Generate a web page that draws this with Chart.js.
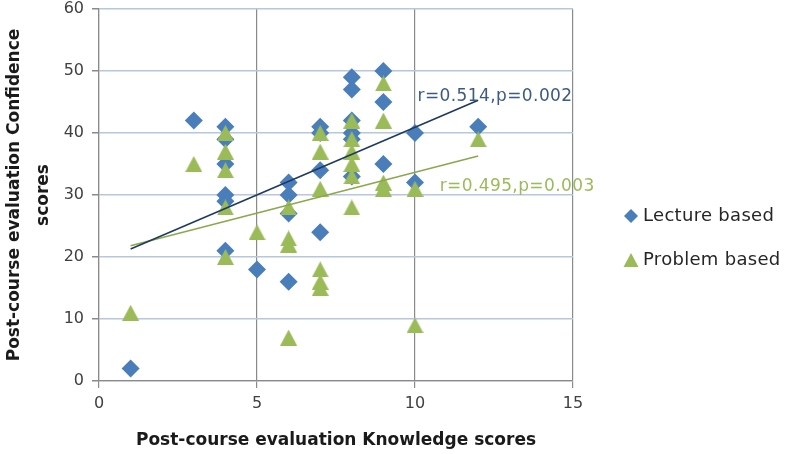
<!DOCTYPE html>
<html>
<head>
<meta charset="utf-8">
<script src="https://cdn.jsdelivr.net/npm/chart.js@4.4.1/dist/chart.umd.min.js"></script>
<style>
  html, body { margin: 0; padding: 0; background: #ffffff; }
  #wrap { width: 787px; height: 454px; }
</style>
</head>
<body>
<div id="wrap"><canvas id="c" width="787" height="454"></canvas></div>
<script>
// ---- data ----
const lectureX = [1, 3, 4, 4, 4, 4, 4, 4, 5, 6, 6, 6, 6, 7, 7, 7, 7, 8, 8, 8, 8, 8, 8, 9, 9, 9, 10, 10, 12];
const lectureY = [2, 42, 41, 39, 35, 30, 29, 21, 18, 32, 30, 27, 16, 41, 40, 34, 24, 49, 47, 42, 40, 39, 33, 50, 45, 35, 40, 32, 41];
const problemX = [1, 3, 4, 4, 4, 4, 4, 5, 6, 6, 6, 6, 7, 7, 7, 7, 7, 7, 8, 8, 8, 8, 8, 8, 9, 9, 9, 9, 10, 10, 12];
const problemY = [11, 35, 40, 37, 34, 28, 20, 24, 28, 23, 22, 7, 40, 37, 31, 18, 16, 15, 42, 39, 37, 35, 33, 28, 48, 42, 32, 31, 31, 9, 39];
const lectureTrendX = [1, 12];
const lectureTrendY = [21.3, 45.3];
const problemTrendX = [1, 12];
const problemTrendY = [21.8, 36.3];
const seriesNames = ['Lecture based', 'Problem based'];
const lectureStat = 'r=0.514,p=0.002';
const problemStat = 'r=0.495,p=0.003';
const xTitle = 'Post-course evaluation Knowledge scores';
const yTitle = ['Post-course evaluation Confidence', 'scores'];

const toPts = (xs, ys) => xs.map((x, i) => ({ x: x, y: ys[i] }));

const BLUE = '#4a7ebb';
const GREEN = '#9bbb59';

// triangle marker image, centred on its bounding box
function triangleImage(w, h, color) {
  const c = document.createElement('canvas');
  c.width = w; c.height = h;
  const g = c.getContext('2d');
  g.fillStyle = color;
  g.beginPath();
  g.moveTo(w / 2, 0);
  g.lineTo(w, h);
  g.lineTo(0, h);
  g.closePath();
  g.fill();
  return c;
}
const triImg = triangleImage(17, 16, GREEN);

const annotations = [
  { text: lectureStat, x: 10.08, y: 45.1, color: '#3b5b84' },
  { text: problemStat, x: 10.78, y: 30.6, color: GREEN }
];

const annotationPlugin = {
  id: 'annot',
  afterDatasetsDraw(chart) {
    const { ctx, scales } = chart;
    ctx.save();
    ctx.font = '17px "DejaVu Sans"';
    ctx.textBaseline = 'alphabetic';
    ctx.textAlign = 'left';
    try { ctx.letterSpacing = '0.4px'; } catch (e) {}
    annotations.forEach(a => {
      ctx.fillStyle = a.color;
      ctx.fillText(a.text, scales.x.getPixelForValue(a.x), scales.y.getPixelForValue(a.y));
    });
    ctx.restore();
  }
};

const legendPlugin = {
  id: 'customLegend',
  afterDraw(chart) {
    const { ctx } = chart;
    const area = chart.chartArea;
    const mx = area.right + 58;
    const tx = area.right + 70;
    const rows = [area.top + 207, area.top + 251];
    ctx.save();
    // diamond
    ctx.fillStyle = chart.data.datasets[0].backgroundColor;
    ctx.beginPath();
    ctx.moveTo(mx, rows[0] - 7);
    ctx.lineTo(mx + 7, rows[0]);
    ctx.lineTo(mx, rows[0] + 7);
    ctx.lineTo(mx - 7, rows[0]);
    ctx.closePath();
    ctx.fill();
    // triangle
    ctx.fillStyle = GREEN;
    ctx.beginPath();
    ctx.moveTo(mx, rows[1] - 7);
    ctx.lineTo(mx + 7.5, rows[1] + 7);
    ctx.lineTo(mx - 7.5, rows[1] + 7);
    ctx.closePath();
    ctx.fill();
    ctx.fillStyle = '#262626';
    ctx.font = '18px "DejaVu Sans"';
    ctx.textBaseline = 'middle';
    ctx.textAlign = 'left';
    try { ctx.letterSpacing = '0.3px'; } catch (e) {}
    ctx.fillText(seriesNames[0], tx, rows[0]);
    ctx.fillText(seriesNames[1], tx, rows[1]);
    ctx.restore();
  }
};

new Chart(document.getElementById('c'), {
  type: 'scatter',
  data: {
    datasets: [
      {
        label: seriesNames[0],
        data: toPts(lectureX, lectureY),
        pointStyle: 'rectRot',
        pointRadius: 9,
        backgroundColor: BLUE,
        borderColor: BLUE,
        borderWidth: 0,
        order: 2
      },
      {
        label: seriesNames[1],
        data: toPts(problemX, problemY),
        pointStyle: triImg,
        pointRadius: 8,
        backgroundColor: GREEN,
        borderColor: GREEN,
        borderWidth: 0,
        order: 1
      },
      {
        type: 'line',
        label: 'Lecture trend',
        data: toPts(lectureTrendX, lectureTrendY),
        borderColor: '#1f3a60',
        borderWidth: 1.6,
        pointRadius: 0,
        fill: false,
        order: 0
      },
      {
        type: 'line',
        label: 'Problem trend',
        data: toPts(problemTrendX, problemTrendY),
        borderColor: '#8aa94b',
        borderWidth: 1.6,
        pointRadius: 0,
        fill: false,
        order: 0
      }
    ]
  },
  options: {
    responsive: false,
    animation: false,
    devicePixelRatio: 1,
    layout: { padding: { top: 7, right: 214, left: 0, bottom: 0 } },
    plugins: {
      legend: { display: false },
      tooltip: { enabled: false }
    },
    scales: {
      x: {
        type: 'linear',
        min: 0, max: 15,
        ticks: { stepSize: 5, color: '#404040', font: { family: 'DejaVu Sans', size: 16 }, padding: 6 },
        grid: { color: '#8a8a8a', lineWidth: 1.2, tickLength: 7, tickColor: '#8a8a8a' },
        border: { color: '#8a8a8a', width: 1.2 },
        title: {
          display: true, text: xTitle, color: '#1a1a1a',
          font: { family: 'DejaVu Sans', size: 17, weight: 'bold' },
          padding: { top: 0, bottom: 3 }
        },
        afterFit(s) { s.height = 73; s.paddingLeft = 0; s.paddingRight = 0; }
      },
      y: {
        type: 'linear',
        min: 0, max: 60,
        ticks: { stepSize: 10, color: '#404040', font: { family: 'DejaVu Sans', size: 16 }, padding: 8 },
        grid: { color: '#b8c6e0', lineWidth: 1.5, tickLength: 7, tickColor: '#8a8a8a' },
        border: { color: '#8a8a8a', width: 1.2 },
        title: {
          display: true, text: yTitle, color: '#1a1a1a',
          font: { family: 'DejaVu Sans', size: 17, weight: 'bold', lineHeight: 1.72 },
          padding: { top: 0, bottom: 0 }
        },
        afterFit(s) { s.width = 99; s.paddingTop = 0; s.paddingBottom = 0; }
      }
    }
  },
  plugins: [annotationPlugin, legendPlugin]
});
</script>
</body>
</html>
